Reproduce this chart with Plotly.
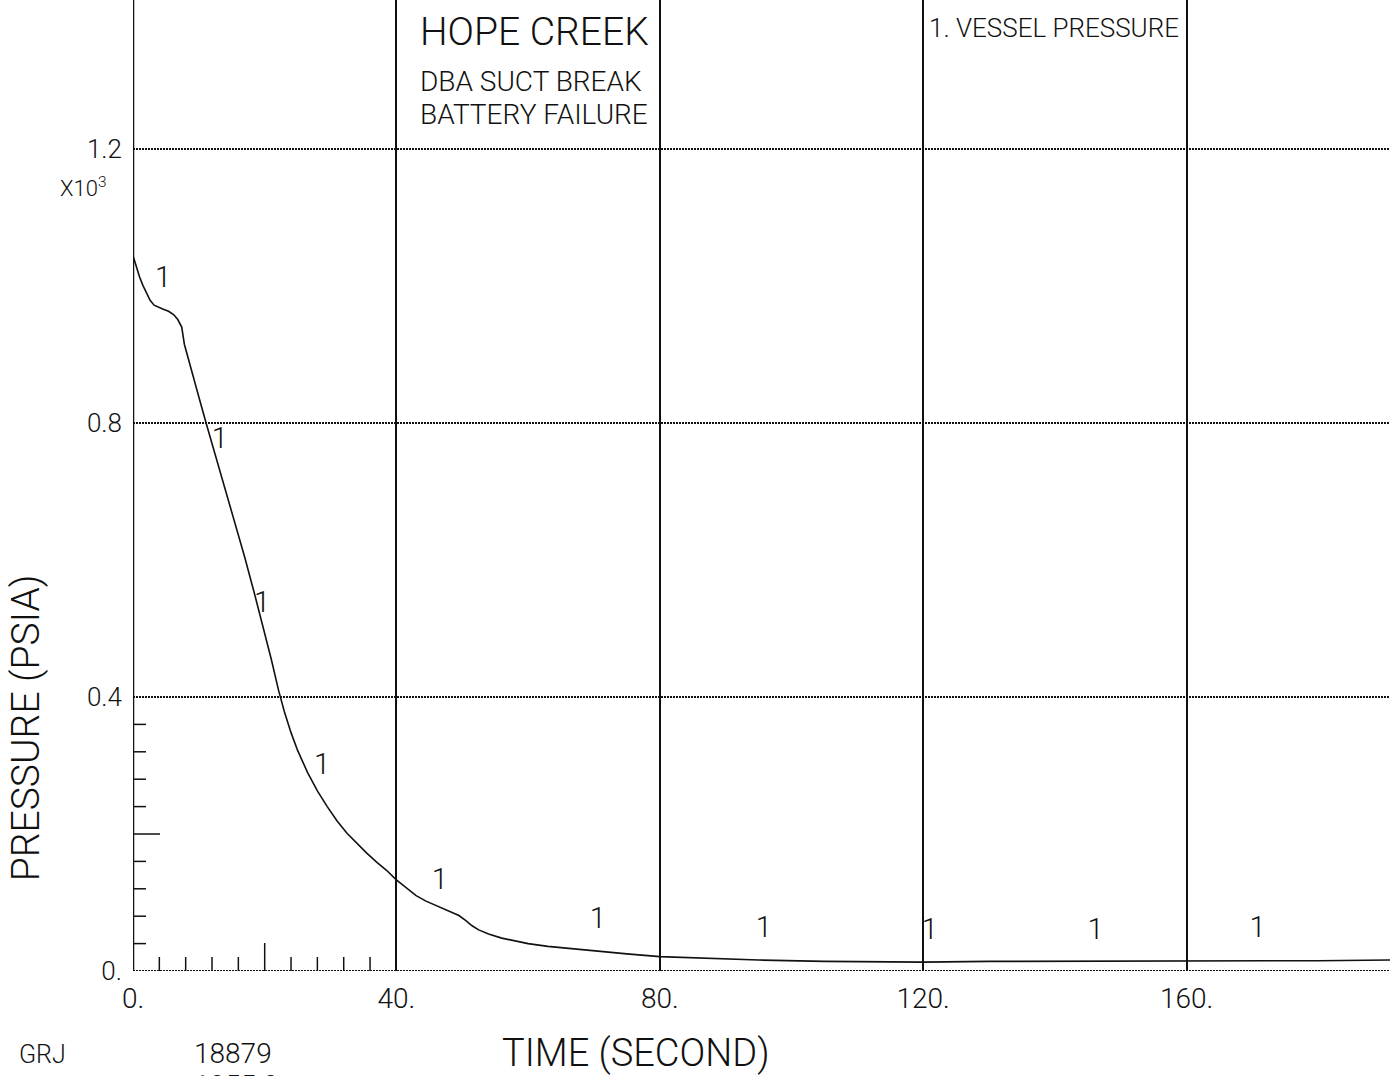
import plotly.graph_objects as go

# Vessel pressure transient (units of 10^3 psia) versus time in seconds
time_s = [0, 0.5, 1.0, 1.5, 2.0, 2.6, 3.2, 4.0, 4.6, 5.4, 6.2, 6.8, 7.4, 7.8, 9.0,
          10.0, 11.1, 12.5, 14.0, 15.5, 17.0, 18.5, 20.0, 21.0, 22.1, 23.0, 24.0,
          25.0, 26.5, 28.0, 29.5, 31.0, 32.5, 34.0, 35.5, 37.0, 38.5, 40.0, 41.5,
          43.0, 44.5, 46.0, 47.5, 48.5, 49.5, 50.5, 51.5, 52.5, 54.0, 56.0, 58.0,
          60.0, 63.0, 67.0, 71.0, 75.0, 80.0, 86.0, 95.0, 105.0, 115.0, 120.0,
          130.0, 140.0, 150.0, 160.0, 170.0, 180.0, 191.0]
pressure = [1.044, 1.028, 1.013, 1.001, 0.990, 0.979, 0.972, 0.968, 0.966, 0.963,
            0.958, 0.951, 0.940, 0.915, 0.875, 0.838, 0.800, 0.754, 0.705, 0.655,
            0.603, 0.549, 0.495, 0.455, 0.410, 0.378, 0.348, 0.322, 0.290, 0.263,
            0.240, 0.219, 0.201, 0.186, 0.172, 0.159, 0.147, 0.133, 0.121, 0.110,
            0.102, 0.096, 0.090, 0.086, 0.081, 0.074, 0.066, 0.060, 0.054, 0.048,
            0.044, 0.040, 0.036, 0.032, 0.028, 0.025, 0.021, 0.019, 0.016, 0.014,
            0.013, 0.013, 0.014, 0.014, 0.015, 0.015, 0.015, 0.015, 0.016]

# Curve identifier "1" written along the trace
label_t = [4.56, 13.2, 19.6, 28.7, 46.6, 70.6, 95.8, 121.0, 146.2, 170.8]
label_p = [1.009, 0.774, 0.534, 0.298, 0.130, 0.073, 0.060, 0.057, 0.057, 0.060]

x_ticks = [0, 40, 80, 120, 160]
x_tick_text = ["0.", "40.", "80.", "120.", "160."]
y_ticks = [0, 0.4, 0.8, 1.2]
y_tick_text = ["0.", "0.4", "0.8", "1.2"]

# Minor ticks on the first major interval of each axis
x_minor = [4, 8, 12, 16, 20, 24, 28, 32, 36]
y_minor = [0.04, 0.08, 0.12, 0.16, 0.20, 0.24, 0.28, 0.32, 0.36]

FONT = "Roboto, Liberation Sans Narrow, sans-serif"
INK = "#111111"


def txt(size):
    return dict(family=FONT, size=size, color=INK, weight=300)


fig = go.Figure()
fig.add_trace(go.Scatter(x=time_s, y=pressure, mode="lines",
                         line=dict(color=INK, width=1.6), showlegend=False,
                         hoverinfo="skip"))
fig.add_trace(go.Scatter(x=label_t, y=label_p, mode="text", text=["1"] * len(label_t),
                         textfont=txt(29), showlegend=False, hoverinfo="skip"))

shapes = []
for t in x_minor:
    shapes.append(dict(type="line", xref="x", yref="y", ysizemode="pixel", yanchor=0,
                       x0=t, x1=t, y0=0, y1=28 if t == 20 else 14,
                       line=dict(color=INK, width=1.5)))
for p in y_minor:
    shapes.append(dict(type="line", xref="x", yref="y", xsizemode="pixel", xanchor=0,
                       x0=0, x1=27 if abs(p - 0.2) < 1e-9 else 13, y0=p, y1=p,
                       line=dict(color=INK, width=1.5)))
# dotted base line along the time axis and solid frame on the left
shapes.append(dict(type="line", xref="paper", yref="y", x0=0, x1=1, y0=0, y1=0,
                   line=dict(color=INK, width=2, dash="2px,1px")))
shapes.append(dict(type="line", xref="x", yref="paper", x0=0, x1=0, y0=0, y1=1,
                   line=dict(color=INK, width=2.5)))

annotations = [
    dict(text="HOPE CREEK", xref="x", yref="paper", x=40, y=1, xshift=22, yshift=-7,
         xanchor="left", yanchor="top", showarrow=False, font=txt(39)),
    dict(text="DBA SUCT BREAK", xref="x", yref="paper", x=40, y=1, xshift=22,
         yshift=-63, xanchor="left", yanchor="top", showarrow=False, font=txt(28)),
    dict(text="BATTERY FAILURE", xref="x", yref="paper", x=40, y=1, xshift=22,
         yshift=-96, xanchor="left", yanchor="top", showarrow=False, font=txt(28)),
    dict(text="1. VESSEL PRESSURE", xref="x", yref="paper", x=120, y=1, xshift=4,
         yshift=-11, xanchor="left", yanchor="top", showarrow=False, font=txt(26)),
    dict(text="X10<sup>3</sup>", xref="paper", yref="y", x=0, y=1.2, xshift=-25,
         yshift=-38, xanchor="right", yanchor="middle", showarrow=False, font=txt(22)),
    dict(text="PRESSURE (PSIA)", xref="paper", yref="paper", x=0, y=0.25, xshift=-107,
         textangle=-90, xanchor="center", yanchor="middle", showarrow=False,
         font=txt(39)),
    dict(text="TIME (SECOND)", xref="paper", yref="paper", x=0.4, y=0, yshift=-82,
         xanchor="center", yanchor="middle", showarrow=False, font=txt(38)),
    dict(text="GRJ", xref="paper", yref="paper", x=0, y=0, xshift=-91, yshift=-83,
         xanchor="center", yanchor="middle", showarrow=False, font=txt(25)),
    dict(text="18879", xref="paper", yref="paper", x=0, y=0, xshift=100, yshift=-82,
         xanchor="center", yanchor="middle", showarrow=False, font=txt(28)),
    dict(text="1955.0", xref="paper", yref="paper", x=0, y=0, xshift=103, yshift=-114,
         xanchor="center", yanchor="middle", showarrow=False, font=txt(28)),
]

fig.update_layout(
    width=1398, height=1076,
    margin=dict(l=133, r=8, t=0, b=105),
    paper_bgcolor="white", plot_bgcolor="white",
    font=dict(family=FONT, color=INK),
    shapes=shapes, annotations=annotations,
    xaxis=dict(range=[0, 190.9], tickvals=x_ticks, ticktext=x_tick_text,
               showgrid=True, gridcolor=INK, gridwidth=2, zeroline=False,
               showline=False, ticks="", tickfont=txt(28), ticklabelstandoff=8),
    yaxis=dict(range=[0, 1.4175], tickvals=y_ticks, ticktext=y_tick_text,
               showgrid=True, gridcolor=INK, gridwidth=2, griddash="2px,1px",
               zeroline=False, showline=False, ticks="", tickfont=txt(26),
               ticklabelstandoff=10),
)

fig.write_html("out.html")
